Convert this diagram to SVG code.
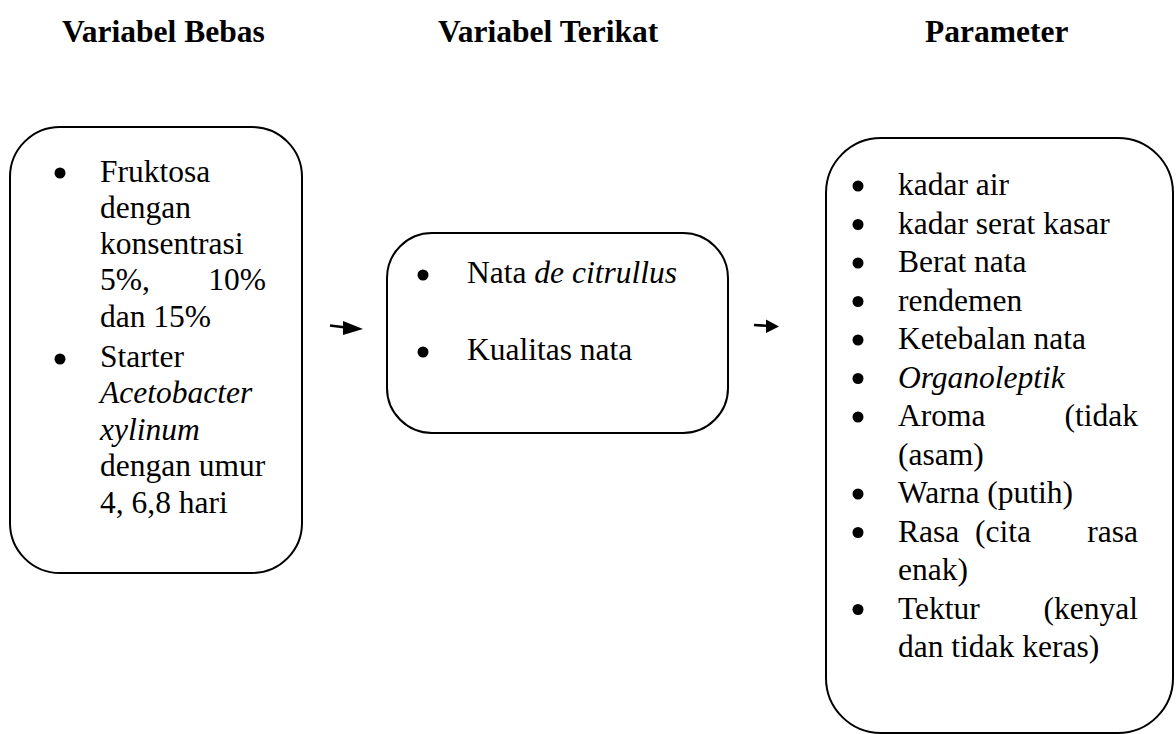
<svg xmlns="http://www.w3.org/2000/svg" width="1176" height="734" viewBox="0 0 1176 734">
<style>
.box{fill:#fff;stroke:#000;stroke-width:2}
.h{font-weight:bold;font-size:31.5px;fill:#000}
.t{font-size:31.5px;fill:#000}
.i{font-style:italic}
.b{fill:#000}
.ln{stroke:#000;stroke-width:2.5;fill:none}
</style>
<rect width="1176" height="734" fill="#fff"/>
<g font-family="Liberation Serif, Times New Roman, serif">
<g id="headers">
<text class="h" x="62" y="42">Variabel Bebas</text>
<text class="h" x="438" y="42">Variabel Terikat</text>
<text class="h" x="925" y="42">Parameter</text>
</g>
<g id="node-bebas">
<rect class="box" x="10" y="127" width="292" height="446" rx="50" ry="50"/>
<circle class="b" cx="60" cy="173" r="5.5"/>
<text class="t" x="100" y="182">Fruktosa</text>
<text class="t" x="100" y="218">dengan</text>
<text class="t" x="100" y="254">konsentrasi</text>
<text class="t" x="100" y="290">5%,</text>
<text class="t" x="266" y="290" text-anchor="end">10%</text>
<text class="t" x="100" y="327">dan 15%</text>
<circle class="b" cx="60" cy="359" r="5.5"/>
<text class="t" x="100" y="367">Starter</text>
<text class="t i" x="100" y="403">Acetobacter</text>
<text class="t i" x="100" y="440">xylinum</text>
<text class="t" x="100" y="476">dengan umur</text>
<text class="t" x="100" y="513">4, 6,8 hari</text>
</g>
<g id="node-terikat">
<rect class="box" x="387" y="233" width="341" height="200" rx="45" ry="45"/>
<circle class="b" cx="423" cy="275" r="5.5"/>
<text class="t" x="467" y="283">Nata <tspan class="i">de citrullus</tspan></text>
<circle class="b" cx="423" cy="352" r="5.5"/>
<text class="t" x="467" y="360">Kualitas nata</text>
</g>
<g id="node-parameter">
<rect class="box" x="826" y="138" width="347" height="595" rx="55" ry="55"/>
<g class="b">
<circle cx="858" cy="186" r="5.5"/>
<circle cx="858" cy="224.5" r="5.5"/>
<circle cx="858" cy="263" r="5.5"/>
<circle cx="858" cy="301.5" r="5.5"/>
<circle cx="858" cy="340" r="5.5"/>
<circle cx="858" cy="378.5" r="5.5"/>
<circle cx="858" cy="417" r="5.5"/>
<circle cx="858" cy="494" r="5.5"/>
<circle cx="858" cy="532.5" r="5.5"/>
<circle cx="858" cy="609.5" r="5.5"/>
</g>
<text class="t" x="898" y="195">kadar air</text>
<text class="t" x="898" y="233.5">kadar serat kasar</text>
<text class="t" x="898" y="272">Berat nata</text>
<text class="t" x="898" y="310.5">rendemen</text>
<text class="t" x="898" y="349">Ketebalan nata</text>
<text class="t i" x="898" y="387.5">Organoleptik</text>
<text class="t" x="898" y="426">Aroma</text>
<text class="t" x="1138" y="426" text-anchor="end">(tidak</text>
<text class="t" x="898" y="464.5">(asam)</text>
<text class="t" x="898" y="503">Warna (putih)</text>
<text class="t" x="898" y="541.5">Rasa</text>
<text class="t" x="975" y="541.5">(cita</text>
<text class="t" x="1138" y="541.5" text-anchor="end">rasa</text>
<text class="t" x="898" y="580">enak)</text>
<text class="t" x="898" y="618.5">Tektur</text>
<text class="t" x="1138" y="618.5" text-anchor="end">(kenyal</text>
<text class="t" x="898" y="657">dan tidak keras)</text>
</g>
</g>
<g id="connectors">
<line class="ln" x1="330" y1="325.5" x2="350" y2="328"/>
<polygon class="b" points="343,321 363,329 343,335"/>
<line class="ln" x1="754" y1="325" x2="770" y2="326"/>
<polygon class="b" points="766,319.5 779,326.5 766,333"/>
</g>
</svg>
